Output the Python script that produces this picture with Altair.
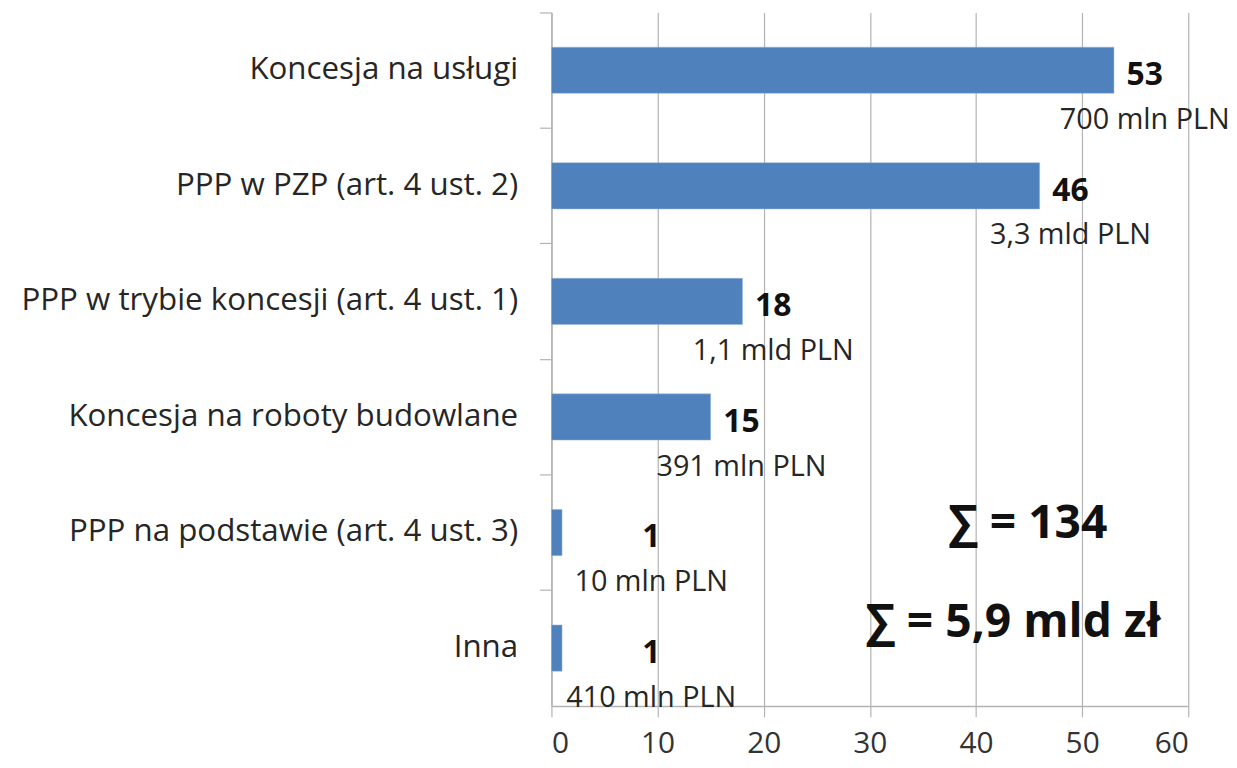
import altair as alt
import pandas as pd

categories = [
    "Koncesja na usługi",
    "PPP w PZP (art. 4 ust. 2)",
    "PPP w trybie koncesji (art. 4 ust. 1)",
    "Koncesja na roboty budowlane",
    "PPP na podstawie (art. 4 ust. 3)",
    "Inna",
]
counts = [53, 46, 18, 15, 1, 1]
amounts = ["700 mln PLN", "3,3 mld PLN", "1,1 mld PLN", "391 mln PLN", "10 mln PLN", "410 mln PLN"]
x_ticks = [0, 10, 20, 30, 40, 50, 60]
sum_texts = ["∑ = 134", "∑ = 5,9 mld zł"]

FONT = "Open Sans"
df = pd.DataFrame({"cat": categories, "n": counts, "amt": amounts})
df["lx"] = df["n"].clip(lower=6.5) + 2.9

W, H = 641, 698
GRID = "#B3B3B3"

yscale = alt.Scale(domain=categories, paddingInner=0.6, paddingOuter=0.3)
ystep = alt.Scale(domain=categories, paddingInner=0, paddingOuter=0)
xscale = alt.Scale(domain=[0, 60], nice=False)

base = alt.Chart(df)

bars = base.mark_bar(color="#4F81BD", stroke="#9DB9DC", strokeWidth=0.5).encode(
    x=alt.X("n:Q", scale=xscale, axis=alt.Axis(
        values=x_ticks, title=None, grid=True, gridColor=GRID, gridWidth=1.2,
        domainColor=GRID, domainWidth=1.5, tickColor=GRID, tickSize=11,
        tickWidth=1.2, labelFontSize=30, labelFont=FONT, labelColor="#333333",
        labelPadding=12)),
    y=alt.Y("cat:N", scale=yscale, sort=categories, axis=alt.Axis(
        title=None, ticks=False, domain=False, labelFontSize=31.5, labelFont=FONT,
        labelColor="#262626", labelPadding=34, labelLimit=0)),
)

yticks = base.mark_tick(opacity=0).encode(
    y=alt.Y("cat:N", scale=ystep, sort=categories, axis=alt.Axis(
        title=None, labels=False, ticks=True, bandPosition=0, orient="left",
        grid=False, domain=True, domainColor=GRID, domainWidth=1.5, tickColor=GRID,
        tickSize=12, tickWidth=1.2)),
    x=alt.X("n:Q", scale=xscale, title=None),
)

vals = base.mark_text(fontSize=32, fontWeight="bold", font=FONT, color="#111111",
                      dy=5, align="center").encode(
    x=alt.X("lx:Q", scale=xscale, title=None),
    y=alt.Y("cat:N", scale=yscale, sort=categories, axis=None),
    text="n:Q",
)

subs = base.mark_text(fontSize=29, font=FONT, color="#262626", dy=50,
                      align="center").encode(
    x=alt.X("lx:Q", scale=xscale, title=None),
    y=alt.Y("cat:N", scale=yscale, sort=categories, axis=None),
    text="amt:N",
)

sums_df = pd.DataFrame({"t": sum_texts, "x": [44.9, 43.5], "y": [527, 627]})
sums = alt.Chart(sums_df).mark_text(fontSize=46.5, fontWeight="bold", font=FONT,
                                    color="#111111", align="center",
                                    baseline="middle").encode(
    x=alt.X("x:Q", scale=xscale, title=None),
    y=alt.Y("y:Q", scale=alt.Scale(domain=[710, 12]), axis=None),
    text="t:N",
)

chart = alt.layer(bars, yticks, vals, subs, sums).resolve_scale(
    y="independent").resolve_axis(y="independent").properties(
    width=W, height=H,
    autosize=alt.AutoSizeParams(type="none"),
    padding={"left": 547, "top": 2, "right": 41, "bottom": 58},
).configure_view(stroke=None)

chart.save("out.html", embed_options={"renderer": "svg", "actions": False})
